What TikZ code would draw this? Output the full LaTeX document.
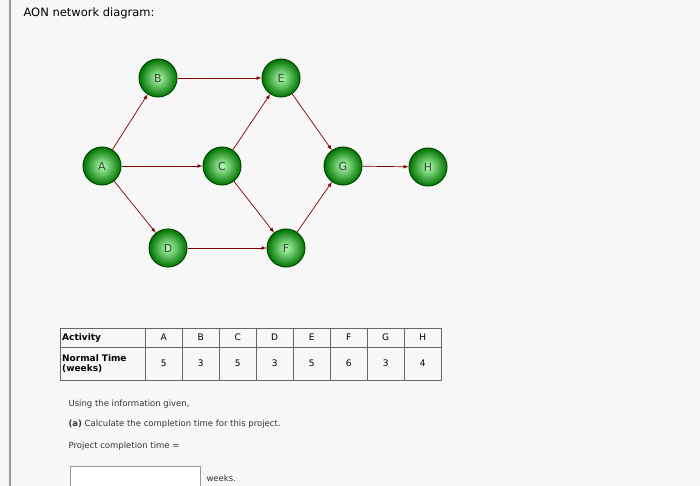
\documentclass[tikz,border=0pt]{standalone}
\usepackage{fontspec}
\setmainfont{DejaVu Sans}
\begin{document}
\begin{tikzpicture}[x=1pt,y=-1pt,
  act/.style={circle,minimum size=38pt,inner sep=0pt,draw=green!30!black,line width=1pt,
    inner color=green!30!white,outer color=green!45!black,text=black!75,font=\fontsize{11}{13}\selectfont},
  arr/.style={-latex,draw=red!50!black,line width=0.7pt},
  cell/.style={draw=black!60,minimum height=19pt,inner sep=0pt,font=\fontsize{9}{11}\selectfont},
  txt/.style={anchor=west,font=\fontsize{8.5}{10}\selectfont,text=black!80}]
\useasboundingbox (0,0) rectangle (700,486);
\fill[black!3] (0,0) rectangle (700,486);
\draw[black!40,line width=2pt] (10,0) -- (10,486);
\node[anchor=west,font=\fontsize{11.5}{13}\selectfont] (title) at (20,13) {AON network diagram:};
\node[act] (B) at (158,78) {B};
\node[act] (E) at (281,78) {E};
\node[act] (A) at (102,166) {A};
\node[act] (C) at (222,166) {C};
\node[act] (G) at (343,166) {G};
\node[act] (H) at (428,167) {H};
\node[act] (D) at (168,248) {D};
\node[act] (F) at (286,248) {F};
\draw[arr] (A) -- (B);
\draw[arr] (A) -- (C);
\draw[arr] (A) -- (D);
\draw[arr] (B) -- (E);
\draw[arr] (C) -- (E);
\draw[arr] (C) -- (F);
\draw[arr] (D) -- (F);
\draw[arr] (E) -- (G);
\draw[arr] (F) -- (G);
\draw[arr] (G) -- (H);
% table
\node[cell,anchor=north west,minimum width=85pt,text width=81pt,align=left,font=\bfseries\fontsize{9}{10}\selectfont] (h1) at (60,328) {Activity};
\node[cell,anchor=north west,minimum width=85pt,minimum height=33pt,text width=81pt,align=left,font=\bfseries\fontsize{9}{10}\selectfont] (h2) at (60,347) {Normal Time\\(weeks)};
\foreach \n/\v [count=\i from 0] in {A/5,B/3,C/5,D/3,E/5,F/6,G/3,H/4}{
  \node[cell,anchor=north west,minimum width=37pt] (c\i) at (145+37*\i,328) {\n};
  \node[cell,anchor=north west,minimum width=37pt,minimum height=33pt] (v\i) at (145+37*\i,347) {\v};
}
\node[txt] (t1) at (65,404) {Using the information given,};
\node[txt] (t2) at (65,424) {\textbf{(a)} Calculate the completion time for this project.};
\node[txt] (t3) at (65,446) {Project completion time =};
\draw[black!40,fill=white] (70,466) rectangle (200,486);
\node[txt] (t4) at (203,478) {weeks.};
\end{tikzpicture}
\end{document}
